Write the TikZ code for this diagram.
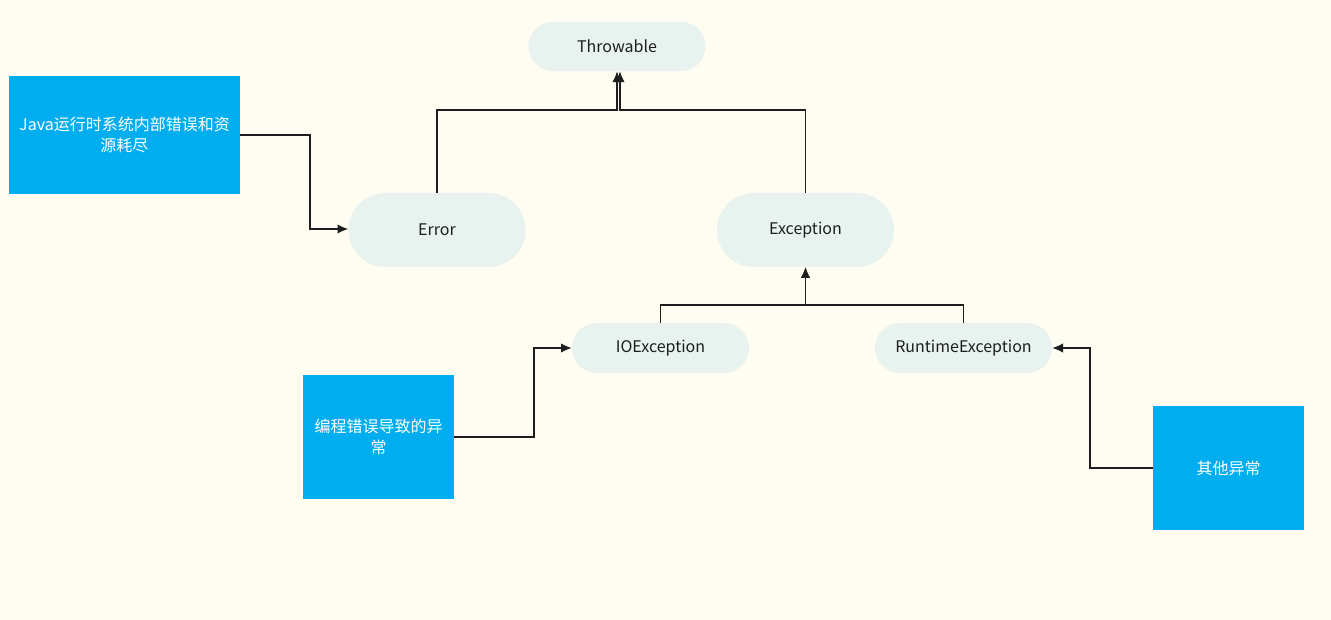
\documentclass[tikz,border=0pt]{standalone}
\usepackage{fontspec}
\setmainfont{Noto Sans CJK SC}
\usepackage{tikz}
\usetikzlibrary{positioning, calc, shapes.misc, arrows.meta}
\definecolor{paper}{RGB}{255,253,242}
\definecolor{pill}{RGB}{232,242,238}
\definecolor{note}{RGB}{0,174,239}
\definecolor{ink}{RGB}{30,30,30}
\tikzstyle{Arrow} = [
	line width=0.8pt, draw=ink,
	-{Latex[length=8pt, width=7pt]}
	]

\begin{document}
\begin{tikzpicture}[
x=0.75pt, y=-0.75pt,
cls/.style={rounded rectangle,
	fill = pill,
	text = ink,
	minimum width = 139.5pt,
	font = \fontsize{12}{15}\selectfont
    },
remark/.style={rectangle,
	fill = note,
	text = white,
	align = center,
	minimum height = 93pt,
	font = \fontsize{12}{16}\selectfont
    }
]
 \useasboundingbox[fill=paper] (0,0) rectangle (1331,620);

 \node [cls, minimum height=37pt] (throwable) at (617,46.5) {Throwable};
 \node [cls, minimum height=55.5pt] (error) at (437,230) {Error};
 \node [cls, minimum height=55.5pt] (exception) at (805.5,230) {Exception};
 \node [cls, minimum height=37.5pt] (io) at (660.5,348) {IOException};
 \node [cls, minimum height=37.5pt] (runtime) at (963.5,348) {RuntimeException};

 \node [remark, minimum width=173pt, minimum height=88.5pt] (jvm) at (124.5,135) {Java运行时系统内部错误和资\\源耗尽};
 \node [remark, minimum width=113pt] (prog) at (378.5,437) {编程错误导致的异\\常};
 \node [remark, minimum width=113pt] (other) at (1228.5,468) {其他异常};

 \draw[Arrow] (error.north) |- (617,110) -- (throwable.south -| 617,0);
 \draw[Arrow] (exception.north) |- (620,110) -- (throwable.south -| 620,0);

 \draw[Arrow] (io.north) |- (805.5,305) -- (exception.south);
 \draw[Arrow] (runtime.north) |- (805.5,305) -- (exception.south);

 \draw[Arrow] (jvm.east) -| (310,229) -- (error.west |- 0,229);
 \draw[Arrow] (prog.east) -| (534,348) -- (io.west);
 \draw[Arrow] (other.west) -| (1090,348) -- (runtime.east);

\end{tikzpicture}
\end{document}
